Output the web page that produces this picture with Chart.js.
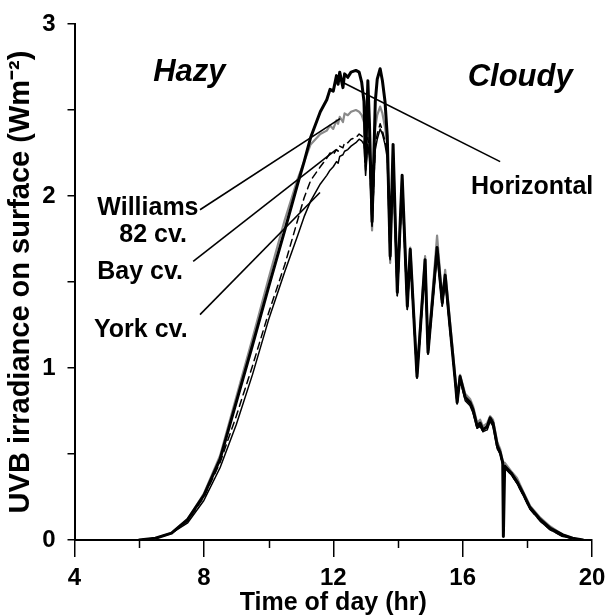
<!DOCTYPE html>
<html><head><meta charset="utf-8">
<script src="https://cdn.jsdelivr.net/npm/chart.js@4.4.0/dist/chart.umd.min.js"></script>
<style>html,body{margin:0;padding:0;background:#fff;} canvas{display:block;}</style>
</head><body>
<canvas id="c" width="607" height="616"></canvas>
<script>
// Time of day (hr)
const times = [6.0, 6.5, 7.0, 7.5, 8.0, 8.5, 9.0, 9.5, 10.0, 10.5,
  10.9, 11.1, 11.3, 11.6, 11.8, 11.9, 12.0, 12.1, 12.15, 12.2,
  12.3, 12.35, 12.45, 12.55, 12.7, 12.8, 12.88, 12.95, 13.0, 13.07,
  13.12, 13.2, 13.3, 13.36, 13.45, 13.52, 13.6, 13.67, 13.76, 13.85,
  13.98, 14.13, 14.29, 14.38, 14.59, 14.84, 14.93, 15.21, 15.37, 15.46,
  15.61, 15.77, 15.83, 15.92, 16.08, 16.23, 16.32, 16.45, 16.54, 16.63,
  16.76, 16.85, 16.94, 17.07, 17.16, 17.24, 17.26, 17.3, 17.5, 17.68,
  17.9, 18.08, 18.4, 18.7, 19.1, 19.4, 19.72];

// UVB irradiance (W m-2)
const horizontal = [0, 0.01, 0.04, 0.12, 0.26, 0.47, 0.8, 1.13, 1.47, 1.8,
  2.07, 2.2, 2.34, 2.49, 2.56, 2.62, 2.61, 2.7, 2.65, 2.72,
  2.63, 2.71, 2.69, 2.72, 2.73, 2.72, 2.66, 2.55, 2.2, 2.67,
  2.42, 1.85, 2.55, 2.68, 2.74, 2.67, 2.55, 2.35, 1.65, 2.3,
  1.44, 2.12, 1.36, 1.69, 0.95, 1.63, 1.09, 1.7, 1.38, 1.54,
  1.24, 0.93, 0.8, 0.95, 0.83, 0.8, 0.76, 0.66, 0.68, 0.64,
  0.66, 0.71, 0.68, 0.55, 0.51, 0.45, 0.02, 0.43, 0.39, 0.34,
  0.26, 0.19, 0.12, 0.07, 0.03, 0.01, 0];

const williams = [0, 0.01, 0.04, 0.12, 0.27, 0.49, 0.83, 1.17, 1.52, 1.86,
  2.1, 2.2, 2.3, 2.36, 2.38, 2.41, 2.39, 2.44, 2.42, 2.46,
  2.43, 2.48, 2.47, 2.49, 2.5, 2.49, 2.47, 2.43, 2.22, 2.46,
  2.3, 1.8, 2.4, 2.47, 2.52, 2.48, 2.4, 2.3, 1.61, 2.25,
  1.46, 2.1, 1.38, 1.7, 0.97, 1.65, 1.11, 1.77, 1.4, 1.57,
  1.27, 0.95, 0.82, 0.96, 0.85, 0.82, 0.78, 0.68, 0.7, 0.66,
  0.68, 0.72, 0.7, 0.57, 0.53, 0.46, 0.45, 0.45, 0.4, 0.36,
  0.27, 0.2, 0.13, 0.08, 0.03, 0.01, 0];

const bay = [0, 0.01, 0.04, 0.11, 0.25, 0.45, 0.72, 1.01, 1.32, 1.6,
  1.86, 1.99, 2.09, 2.17, 2.22, 2.25, 2.24, 2.27, 2.26, 2.29,
  2.28, 2.31, 2.31, 2.33, 2.34, 2.36, 2.35, 2.33, 2.15, 2.34,
  2.25, 1.82, 2.3, 2.36, 2.42, 2.38, 2.32, 2.25, 1.63, 2.2,
  1.42, 2.05, 1.34, 1.66, 0.94, 1.6, 1.08, 1.67, 1.36, 1.52,
  1.22, 0.92, 0.79, 0.94, 0.82, 0.79, 0.75, 0.65, 0.67, 0.63,
  0.65, 0.7, 0.67, 0.54, 0.5, 0.44, 0.43, 0.42, 0.38, 0.33,
  0.25, 0.18, 0.11, 0.06, 0.02, 0.01, 0];

const york = [0, 0.01, 0.04, 0.1, 0.23, 0.42, 0.67, 0.96, 1.28, 1.56,
  1.77, 1.88, 1.97, 2.07, 2.12, 2.15, 2.17, 2.2, 2.19, 2.23,
  2.24, 2.26, 2.27, 2.29, 2.31, 2.33, 2.32, 2.3, 2.12, 2.3,
  2.22, 1.83, 2.27, 2.33, 2.39, 2.36, 2.3, 2.22, 1.63, 2.18,
  1.42, 2.04, 1.34, 1.65, 0.94, 1.59, 1.08, 1.66, 1.36, 1.51,
  1.22, 0.92, 0.79, 0.93, 0.81, 0.78, 0.74, 0.65, 0.66, 0.63,
  0.64, 0.69, 0.66, 0.53, 0.5, 0.44, 0.43, 0.42, 0.38, 0.33,
  0.25, 0.18, 0.11, 0.06, 0.02, 0.01, 0];

const xTickValues = [4, 8, 12, 16, 20];
const yTickValues = [0, 1, 2, 3];

const FONT = "'Liberation Sans', Arial, Helvetica, sans-serif";
function pts(vals) { return times.map((t, i) => ({ x: t, y: vals[i] })); }

// annotation labels (in data units)
const labels = [
  { text: 'Hazy', x: 7.55, y: 2.67, size: 31, italic: true },
  { text: 'Cloudy', x: 17.78, y: 2.64, size: 31, italic: true },
  { text: 'Horizontal', x: 18.15, y: 2.01, size: 25 },
  { text: 'Williams', x: 6.27, y: 1.89, size: 25 },
  { text: '82 cv.', x: 6.43, y: 1.73, size: 25 },
  { text: 'Bay cv.', x: 6.03, y: 1.52, size: 25 },
  { text: 'York cv.', x: 6.05, y: 1.18, size: 25 }
];
const pointers = [
  [12.3, 2.66, 17.16, 2.2],
  [7.88, 1.92, 12.21, 2.45],
  [7.67, 1.62, 12.09, 2.27],
  [7.88, 1.31, 11.59, 2.02]
];

const annotPlugin = {
  id: 'annot',
  afterDatasetsDraw(chart) {
    const { ctx, scales: { x, y }, chartArea } = chart;
    ctx.save();
    ctx.strokeStyle = '#000';
    ctx.lineWidth = 1.6;
    pointers.forEach(p => {
      ctx.beginPath();
      ctx.moveTo(x.getPixelForValue(p[0]), y.getPixelForValue(p[1]));
      ctx.lineTo(x.getPixelForValue(p[2]), y.getPixelForValue(p[3]));
      ctx.stroke();
    });
    ctx.fillStyle = '#000';
    ctx.textAlign = 'center';
    ctx.textBaseline = 'alphabetic';
    labels.forEach(l => {
      ctx.font = (l.italic ? 'italic ' : '') + 'bold ' + l.size + 'px ' + FONT;
      ctx.fillText(l.text, x.getPixelForValue(l.x), y.getPixelForValue(l.y));
    });
    // minor x ticks
    ctx.lineWidth = 1.5;
    for (let i = 0; i < xTickValues.length - 1; i++) {
      const v = (xTickValues[i] + xTickValues[i + 1]) / 2;
      const px = Math.round(x.getPixelForValue(v)) + 0.5;
      ctx.beginPath();
      ctx.moveTo(px, chartArea.bottom);
      ctx.lineTo(px, chartArea.bottom + 8);
      ctx.stroke();
    }
    ctx.restore();
  }
};

const common = { pointRadius: 0, tension: 0, fill: false, borderJoinStyle: 'round', borderCapStyle: 'round' };

new Chart(document.getElementById('c'), {
  type: 'line',
  data: {
    datasets: [
      Object.assign({ label: 'Horizontal', data: pts(horizontal), borderColor: '#000', borderWidth: 3, order: 0 }, common),
      Object.assign({ label: 'York cv.', data: pts(york), borderColor: '#000', borderWidth: 1.5, order: 1 }, common),
      Object.assign({ label: 'Bay cv.', data: pts(bay), borderColor: '#000', borderWidth: 1.5, borderDash: [7, 5], order: 2 }, common),
      Object.assign({ label: 'Williams 82 cv.', data: pts(williams), borderColor: '#8a8a8a', borderWidth: 2.2, order: 3 }, common)
    ]
  },
  options: {
    responsive: false,
    animation: false,
    devicePixelRatio: 1,
    layout: { padding: { left: 0, right: 15, top: 24, bottom: 0 } },
    plugins: { legend: { display: false }, tooltip: { enabled: false } },
    scales: {
      x: {
        type: 'linear', min: 4, max: 20,
        afterFit: s => { s.height = 76; s.paddingLeft = 0; s.paddingRight = 0; },
        afterBuildTicks: s => { s.ticks = xTickValues.map(v => ({ value: v })); },
        ticks: { autoSkip: false, maxRotation: 0, color: '#000', padding: 7,
          font: { family: FONT, size: 24, weight: 'bold' } },
        grid: { drawOnChartArea: false, drawTicks: true, tickLength: 17, color: '#000', lineWidth: 1.5 },
        border: { display: true, color: '#000', width: 2 },
        title: { display: true, text: 'Time of day (hr)', color: '#000',
          font: { family: FONT, size: 25, weight: 'bold', lineHeight: 1 }, padding: { top: 0, bottom: 0 } }
      },
      y: {
        min: 0, max: 3,
        afterFit: s => { s.width = 74.5; s.paddingTop = 0; s.paddingBottom = 0; },
        ticks: { stepSize: 0.5, autoSkip: false, color: '#000', padding: 12,
          callback: v => (yTickValues.includes(v) ? String(v) : ''),
          font: { family: FONT, size: 24, weight: 'bold' } },
        grid: { drawOnChartArea: false, drawTicks: true, tickLength: 7, color: '#000', lineWidth: 1.5 },
        border: { display: true, color: '#000', width: 2 },
        title: { display: true, text: 'UVB irradiance on surface (Wm\u207B\u00B2)', color: '#000',
          font: { family: FONT, size: 29, weight: 'bold', lineHeight: 1 }, padding: { top: 6, bottom: 0 } }
      }
    }
  },
  plugins: [annotPlugin]
});
</script>
</body></html>
